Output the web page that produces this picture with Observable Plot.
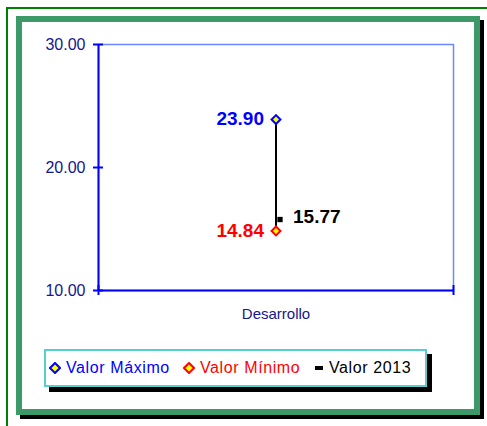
<!DOCTYPE html>
<html>
<head>
<meta charset="utf-8">
<script src="https://cdn.jsdelivr.net/npm/d3@7"></script>
<script src="https://cdn.jsdelivr.net/npm/@observablehq/plot@0.6"></script>
<style>
  html, body { margin: 0; padding: 0; background: #fff; }
  #wrap { position: relative; width: 487px; height: 426px; overflow: hidden; background: #fff; font-family: "Liberation Sans", Arial, sans-serif; }
  .outer { position: absolute; left: 6px; top: 7px; width: 600px; height: 600px; border: 2px solid #008000; }
  .inner { position: absolute; left: 16px; top: 16px; width: 452px; height: 387px; border: 6px solid #3b9a68; box-shadow: 4px 4px 0 #000; background: #fff; }
  #chart { position: absolute; left: 0; top: 0; }
  #chart svg { overflow: visible; }
  g[aria-label="datalabels"] text { letter-spacing: 1.7px; }
  g[aria-label="ylabels"] text { letter-spacing: 1px; }
  g[aria-label="xlabels"] text { letter-spacing: 0.3px; }
  .legend { position: absolute; left: 44px; top: 349px; width: 379px; height: 34px; border: 2px solid #55cfcf; background: #fff; box-shadow: 5px 5px 0 #000; }
  .legend .item { position: absolute; top: 0; height: 34px; display: flex; align-items: center; font-size: 16px; letter-spacing: 0.6px; white-space: nowrap; }
  .legend svg { display: block; margin-right: 5px; }
</style>
</head>
<body>
<div id="wrap">
  <div class="outer"></div>
  <div class="inner"></div>
  <div id="chart"></div>
  <div class="legend" id="legend"></div>
</div>
<script>
const categories = ["Desarrollo"];
const valorMaximo = [23.90];
const valorMinimo = [14.84];
const valor2013 = [15.77];
const yTicks = [10, 20, 30];
const yDomain = [10, 30];
const seriesNames = ["Valor Máximo", "Valor Mínimo", "Valor 2013"];

const data = categories.map((c, i) => ({
  cat: c, pos: i + 1, max: valorMaximo[i], min: valorMinimo[i], v2013: valor2013[i]
}));
const boundaries = d3.range(categories.length + 1).map(i => i + 0.5);
const fmt = d3.format(".2f");
const axisBlue = "#0000ff";
const navy = "#16168c";

const chart = Plot.plot({
  width: 487,
  height: 426,
  marginLeft: 98,
  marginRight: 34,
  marginTop: 44,
  marginBottom: 136,
  style: { background: "transparent", fontFamily: "Liberation Sans, Arial, sans-serif", overflow: "visible" },
  x: { domain: [0.5, categories.length + 0.5], axis: null },
  y: { domain: yDomain, axis: null },
  marks: [
    Plot.frame({ stroke: "#6a88ff", strokeWidth: 1.5 }),
    Plot.ruleX([boundaries[0]], { stroke: axisBlue, strokeWidth: 2 }),
    Plot.ruleY([yDomain[0]], { stroke: axisBlue, strokeWidth: 2 }),
    Plot.axisY({ ticks: yTicks, tickSize: 10, dx: 5, tickFormat: () => "", label: null, stroke: axisBlue, strokeWidth: 2 }),
    Plot.axisY({ ticks: yTicks, tickSize: 0, tickPadding: 13, tickFormat: fmt, label: null, fill: navy, fontSize: 16, ariaLabel: "ylabels" }),
    Plot.axisX({ ticks: boundaries, tickSize: 10, dy: -5, tickFormat: () => "", label: null, stroke: axisBlue, strokeWidth: 2 }),
    Plot.axisX({ ticks: data.map(d => d.pos), tickSize: 0, tickPadding: 18, tickFormat: i => categories[i - 1], label: null, fill: navy, fontSize: 15, ariaLabel: "xlabels" }),
    Plot.ruleX(data, { x: "pos", y1: "min", y2: "max", stroke: "black", strokeWidth: 2 }),
    Plot.dot(data, { x: "pos", y: "v2013", symbol: "square", r: 3, fill: "black", dx: 4 }),
    Plot.dot(data, { x: "pos", y: "max", symbol: "diamond2", r: 4, fill: "#ffff00", stroke: "#0000ff", strokeWidth: 2 }),
    Plot.dot(data, { x: "pos", y: "min", symbol: "diamond2", r: 4, fill: "#ffff00", stroke: "#ff0000", strokeWidth: 2 }),
    Plot.text(data, { x: "pos", y: "max", text: d => fmt(d.max), textAnchor: "end", dx: -12, dy: -1, fill: "#0000ff", fontSize: 19, fontWeight: "bold", ariaLabel: "datalabels" }),
    Plot.text(data, { x: "pos", y: "min", text: d => fmt(d.min), textAnchor: "end", dx: -12, fill: "#ff0000", fontSize: 19, fontWeight: "bold", ariaLabel: "datalabels" }),
    Plot.text(data, { x: "pos", y: "v2013", text: d => fmt(d.v2013), textAnchor: "start", dx: 17, dy: -3, fill: "#000000", fontSize: 19, fontWeight: "bold", ariaLabel: "datalabels" })
  ]
});
document.getElementById("chart").appendChild(chart);

// legend
const legendItems = [
  { name: seriesNames[0], color: "#0000ff", marker: '<svg width="12" height="12"><polygon points="6,1 11,6 6,11 1,6" fill="#ffff00" stroke="#0000ff" stroke-width="2"/></svg>', left: 3 },
  { name: seriesNames[1], color: "#ff0000", marker: '<svg width="12" height="12"><polygon points="6,1 11,6 6,11 1,6" fill="#ffff00" stroke="#ff0000" stroke-width="2"/></svg>', left: 137 },
  { name: seriesNames[2], color: "#000000", marker: '<svg width="9" height="12"><rect x="0" y="4" width="8" height="4" fill="#000"/></svg>', left: 269 }
];
const legend = document.getElementById("legend");
legendItems.forEach(it => {
  const el = document.createElement("div");
  el.className = "item";
  el.style.left = it.left + "px";
  el.style.color = it.color;
  el.innerHTML = it.marker + "<span></span>";
  el.querySelector("span").textContent = it.name;
  legend.appendChild(el);
});
</script>
</body>
</html>
